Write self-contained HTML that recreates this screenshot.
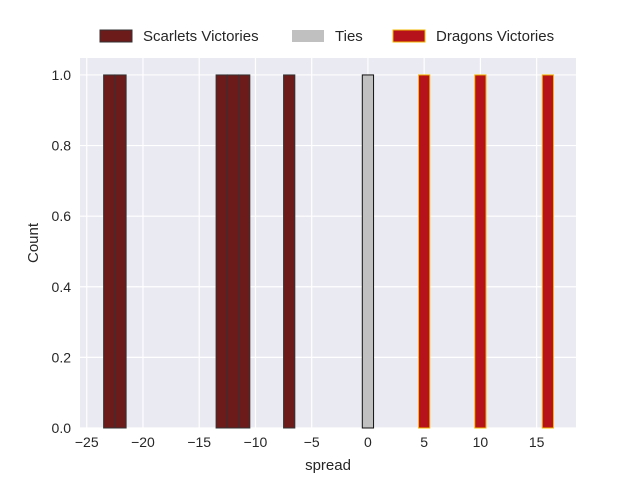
<!DOCTYPE html>
<html><head><meta charset="utf-8"><style>
body{margin:0;background:#fff;font-family:"Liberation Sans","DejaVu Sans",sans-serif;}
svg text{font-family:"Liberation Sans","DejaVu Sans",sans-serif;fill:#262626;}
</style></head><body>
<svg id="chart" width="640" height="480" xmlns="http://www.w3.org/2000/svg">
<rect x="80" y="58" width="496" height="370" fill="#eaeaf2"/>
<g id="grid"></g><g id="bars"></g><g id="ticks"></g>
<text x="328" y="470" font-size="15" text-anchor="middle">spread</text>
<text x="38" y="243" font-size="15" text-anchor="middle" transform="rotate(-90 38 243)">Count</text>
<g>
<g><rect x="100" y="30" width="32" height="12" fill="#6d1a1a" stroke="#333" stroke-width="1"/><text x="143" y="41" font-size="15">Scarlets Victories</text></g>
<g><rect x="292" y="30" width="32" height="12" fill="#c0c0c0"/><text x="335" y="41" font-size="15">Ties</text></g>
<g><rect x="393" y="30" width="32" height="12" fill="#b5121b" stroke="#f4b800" stroke-width="1"/><text x="436" y="41" font-size="15">Dragons Victories</text></g>
</g>
</svg>
<script>
const scarletsSpreads=[-23,-22,-13,-12,-11,-7];
const scarletsCounts=[1,1,1,1,1,1];
const tieSpreads=[0];
const tieCounts=[1];
const dragonsSpreads=[5,10,16];
const dragonsCounts=[1,1,1];
const xTicks=[-25,-20,-15,-10,-5,0,5,10,15];
const yTicks=[0,0.2,0.4,0.6,0.8,1.0];
const X0=80,X1=576,Y0=428,Y1=58,xmin=-25.6,xmax=18.5,ymin=0,ymax=1.048;
const xs=v=>X0+(v-xmin)/(xmax-xmin)*(X1-X0);
const ys=v=>Y0-(v-ymin)/(ymax-ymin)*(Y0-Y1);
const NS="http://www.w3.org/2000/svg";
function mk(t,a,p){const e=document.createElementNS(NS,t);for(const k in a)e.setAttribute(k,a[k]);p.appendChild(e);return e;}
const grid=document.getElementById('grid'),ticks=document.getElementById('ticks'),bars=document.getElementById('bars');
xTicks.forEach(v=>{const x=xs(v);
const l=mk('line',{x1:x,x2:x,y1:Y1,y2:Y0,stroke:'#fff','stroke-width':1.2},grid);


const t=mk('text',{x:x,y:Y0+19,'font-size':14,'text-anchor':'middle'},ticks);t.textContent=v<0?'\u2212'+(-v):v;

});
yTicks.forEach(v=>{const y=ys(v);
const l=mk('line',{x1:X0,x2:X1,y1:y,y2:y,stroke:'#fff','stroke-width':1.2},grid);


const t=mk('text',{x:X0-9,y:y+5,'font-size':14,'text-anchor':'end'},ticks);t.textContent=v.toFixed(1);

});
function series(sp,ct,fill,stroke,name){sp.forEach((s,i)=>{const x=xs(s-0.5),w=xs(s+0.5)-x,y=ys(ct[i]);
const r=mk('rect',{x:x,y:y,width:w,height:ys(0)-y,fill:fill,stroke:stroke,'stroke-width':1},bars);

});}
series(scarletsSpreads,scarletsCounts,'#6d1a1a','#333','bar-scarlets');
series(tieSpreads,tieCounts,'#c0c0c0','#111','bar-tie');
series(dragonsSpreads,dragonsCounts,'#b5121b','#f4b800','bar-dragons');
</script>
</body></html>
